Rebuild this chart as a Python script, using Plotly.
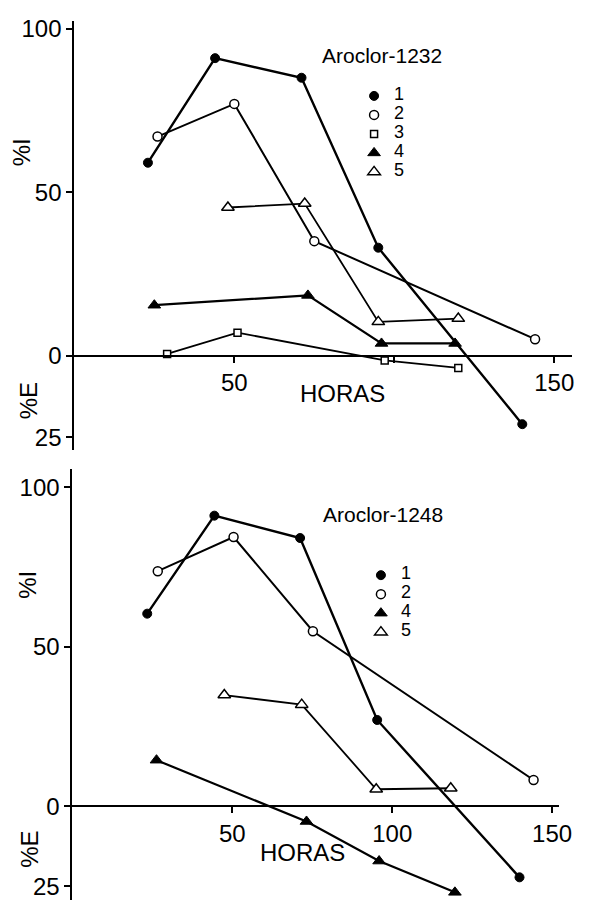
import plotly.graph_objects as go

# ---------------- data: Aroclor-1232 (top panel) ----------------
hours_1232_s1 = [23, 44, 71, 95, 140]
pct_1232_s1 = [59, 91, 85, 33, -21]
hours_1232_s2 = [26, 50, 75, 144]
pct_1232_s2 = [67, 77, 35, 5]
hours_1232_s3 = [29, 51, 97, 120]
pct_1232_s3 = [0.5, 7, -1.5, -3.8]
hours_1232_s4 = [25, 73, 96, 119]
pct_1232_s4 = [15.4, 18.4, 3.7, 3.7]
hours_1232_s5 = [48, 72, 95, 120]
pct_1232_s5 = [45.3, 46.5, 10.3, 11.3]

# ---------------- data: Aroclor-1248 (bottom panel) ----------------
hours_1248_s1 = [23.4, 44.4, 71.2, 95.3, 139.8]
pct_1248_s1 = [60.4, 91.1, 84.1, 27.1, -22.2]
hours_1248_s2 = [26.7, 50.4, 75.2, 144.2]
pct_1248_s2 = [73.7, 84.4, 54.9, 8.3]
hours_1248_s4 = [26.3, 73.2, 95.9, 119.6]
pct_1248_s4 = [14.5, -4.7, -17.1, -26.9]
hours_1248_s5 = [47.5, 71.7, 95.0, 118.3]
pct_1248_s5 = [34.9, 31.9, 5.4, 5.7]

series_names = ["1", "2", "3", "4", "5"]
y_tickvals = [100, 50, 0, -25]
y_ticktext = ["100", "50", "0", "25"]
x_tickvals = [50, 100, 150]
x_ticktext_top = ["50", "", "150"]
x_ticktext_bottom = ["50", "100", "150"]

FONT = "Liberation Sans, Arial, Helvetica, sans-serif"

marker_styles = {
    "1": dict(symbol="circle", size=9, color="black", line=dict(color="black", width=1)),
    "2": dict(symbol="circle", size=9, color="white", line=dict(color="black", width=1.5)),
    "3": dict(symbol="square", size=7, color="white", line=dict(color="black", width=1.5)),
    "4": dict(symbol="triangle-up", size=11, color="black", line=dict(color="black", width=1)),
    "5": dict(symbol="triangle-up", size=11, color="white", line=dict(color="black", width=1.5)),
}
line_widths = {"1": 2.4, "2": 2.0, "3": 1.8, "4": 2.2, "5": 1.8}

fig = go.Figure()

top = [("1", hours_1232_s1, pct_1232_s1), ("2", hours_1232_s2, pct_1232_s2),
       ("3", hours_1232_s3, pct_1232_s3), ("4", hours_1232_s4, pct_1232_s4),
       ("5", hours_1232_s5, pct_1232_s5)]
bottom = [("1", hours_1248_s1, pct_1248_s1), ("2", hours_1248_s2, pct_1248_s2),
          ("4", hours_1248_s4, pct_1248_s4), ("5", hours_1248_s5, pct_1248_s5)]

for name, xs, ys in top:
    fig.add_trace(go.Scatter(x=xs, y=ys, mode="lines+markers", xaxis="x", yaxis="y",
                             line=dict(color="black", width=line_widths[name]),
                             marker=marker_styles[name], showlegend=False, hoverinfo="skip"))
for name, xs, ys in bottom:
    fig.add_trace(go.Scatter(x=xs, y=ys, mode="lines+markers", xaxis="x2", yaxis="y2",
                             line=dict(color="black", width=line_widths[name]),
                             marker=marker_styles[name], showlegend=False, hoverinfo="skip"))


def legend_label(name):
    return '<span style="font-size:18px">%s</span>' % name


# legend-only entries
for name, _, _ in top:
    fig.add_trace(go.Scatter(x=[None], y=[None], mode="markers", name=legend_label(name),
                             marker=marker_styles[name], legend="legend", xaxis="x", yaxis="y"))
for name, _, _ in bottom:
    fig.add_trace(go.Scatter(x=[None], y=[None], mode="markers", name=legend_label(name),
                             marker=marker_styles[name], legend="legend2", xaxis="x2", yaxis="y2"))

W, H = 594, 901
tickfont = dict(family=FONT, size=24, color="black")

fig.update_layout(
    width=W, height=H, margin=dict(l=0, r=0, t=0, b=0),
    paper_bgcolor="white", plot_bgcolor="white",
    font=dict(family=FONT, color="black"),
    xaxis=dict(domain=[76 / W, 585 / W], range=[0, 155.6], anchor="free",
               position=(H - 352.3) / H, showline=True, linecolor="black", linewidth=2,
               ticks="outside", ticklen=6, tickwidth=1.5, tickcolor="black",
               tickvals=x_tickvals, ticktext=x_ticktext_top, tickfont=tickfont,
               ticklabelstandoff=0, showgrid=False, zeroline=False),
    yaxis=dict(domain=[(H - 447) / H, (H - 15) / H], range=[-28.76, 102.4], anchor="x",
               showline=True, linecolor="black", linewidth=2,
               ticks="outside", ticklen=6, tickwidth=1.5, tickcolor="black",
               tickvals=y_tickvals, ticktext=y_ticktext, tickfont=tickfont,
               showgrid=False, zeroline=False),
    xaxis2=dict(domain=[74 / W, 572 / W], range=[0, 152.3], anchor="free",
                position=(H - 806.7) / H, showline=True, linecolor="black", linewidth=2,
                ticks="outside", ticklen=6, tickwidth=1.5, tickcolor="black",
                tickvals=x_tickvals, ticktext=x_ticktext_bottom, tickfont=tickfont,
                ticklabelstandoff=0, showgrid=False, zeroline=False),
    yaxis2=dict(domain=[0, (H - 467) / H], range=[-29.3, 105.6], anchor="x2",
                showline=True, linecolor="black", linewidth=2,
                ticks="outside", ticklen=6, tickwidth=1.5, tickcolor="black",
                tickvals=y_tickvals, ticktext=y_ticktext, tickfont=tickfont,
                showgrid=False, zeroline=False),
    legend=dict(x=362 / W, y=(H - 76) / H, xanchor="left", yanchor="top",
                bgcolor="rgba(0,0,0,0)", font=dict(family=FONT, size=11, color="black"),
                itemwidth=30, tracegroupgap=0),
    legend2=dict(x=369 / W, y=(H - 559) / H, xanchor="left", yanchor="top",
                 bgcolor="rgba(0,0,0,0)", font=dict(family=FONT, size=11, color="black"),
                 itemwidth=30, tracegroupgap=0),
)

ann_font = dict(family=FONT, size=24, color="black")
annotations = [
    dict(text="Aroclor-1232", x=391 / W, y=(H - 50) / H, font=dict(family=FONT, size=21, color="black")),
    dict(text="Aroclor-1248", x=392 / W, y=(H - 512) / H, font=dict(family=FONT, size=21, color="black")),
    dict(text="HORAS", x=350 / W, y=(H - 391) / H, font=ann_font),
    dict(text="HORAS", x=309 / W, y=(H - 853) / H, font=ann_font),
    dict(text="%I", x=22 / W, y=(H - 148) / H, textangle=-90, font=ann_font),
    dict(text="%E", x=30 / W, y=(H - 398) / H, textangle=-90, font=ann_font),
    dict(text="%I", x=28 / W, y=(H - 583) / H, textangle=-90, font=ann_font),
    dict(text="%E", x=30 / W, y=(H - 850) / H, textangle=-90, font=ann_font),
]
for a in annotations:
    fig.add_annotation(xref="paper", yref="paper", showarrow=False,
                       xanchor="center", yanchor="middle", **a)

fig.write_html("out.html")
